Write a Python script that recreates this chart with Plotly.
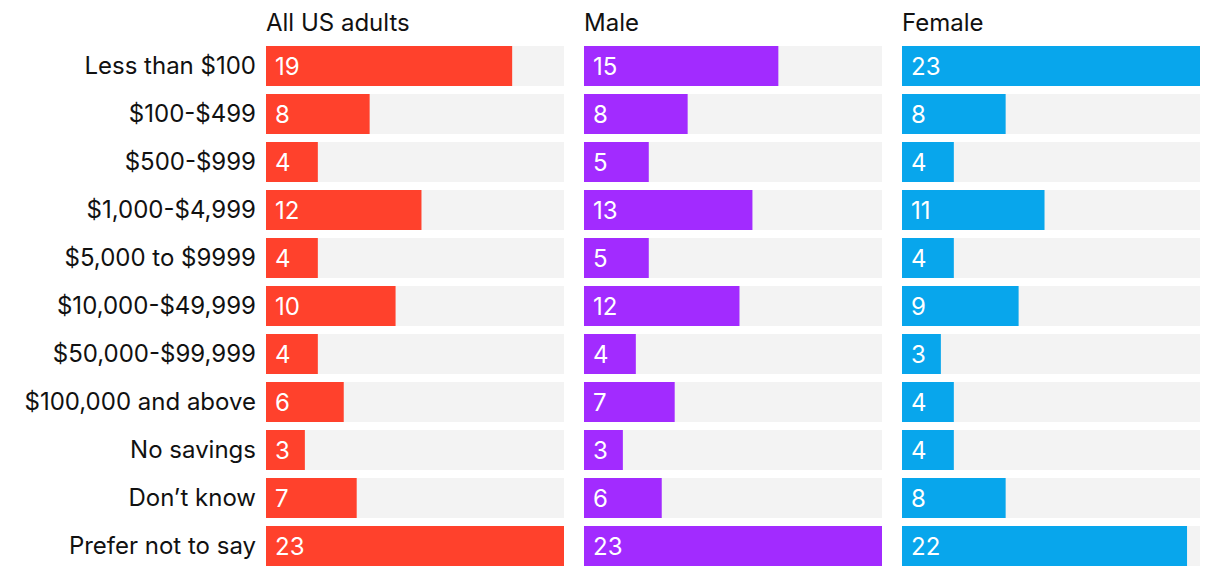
import plotly.graph_objects as go

categories = ["Less than $100", "$100-$499", "$500-$999", "$1,000-$4,999", "$5,000 to $9999",
              "$10,000-$49,999", "$50,000-$99,999", "$100,000 and above", "No savings",
              "Don\u2019t know", "Prefer not to say"]
all_adults = [19, 8, 4, 12, 4, 10, 4, 6, 3, 7, 23]
male = [15, 8, 5, 13, 5, 12, 4, 7, 3, 6, 23]
female = [23, 8, 4, 11, 4, 9, 3, 4, 4, 8, 22]
panel_titles = ["All US adults", "Male", "Female"]
colors = ["#FF412C", "#A22BFF", "#08A6EC"]
max_value = 23

FONT = "Inter"
# page body has an 8px margin, so the figure is placed at (8, 8)
W, H = 1212, 568
ml, mr, mt, mb = 258, 20, 34, 6
pw = W - ml - mr
gap = 20
panel_w = (pw - 2 * gap) / 3
domains = []
for i in range(3):
    a = i * (panel_w + gap) / pw
    domains.append([a, a + panel_w / pw])

fig = go.Figure()
series = [all_adults, male, female]
annotations = []
for i, vals in enumerate(series):
    xa = "x" if i == 0 else f"x{i+1}"
    ya = "y" if i == 0 else f"y{i+1}"
    fig.add_trace(go.Bar(y=categories, x=[max_value] * len(categories), orientation="h",
                         marker=dict(color="#F3F3F3", line=dict(width=0)),
                         xaxis=xa, yaxis=ya, hoverinfo="skip", showlegend=False))
    fig.add_trace(go.Bar(y=categories, x=vals, orientation="h",
                         marker=dict(color=colors[i], line=dict(width=0)),
                         xaxis=xa, yaxis=ya, showlegend=False))
    for c, v in zip(categories, vals):
        annotations.append(dict(x=0, y=c, xref=xa, yref=ya, text=str(v), showarrow=False,
                                xanchor="left", xshift=7, yanchor="middle",
                                font=dict(family=FONT, size=24, color="white")))
    annotations.append(dict(x=domains[i][0], y=1, xref="paper", yref="paper",
                            yshift=20, text=panel_titles[i], showarrow=False,
                            xanchor="left", xshift=-2, yanchor="middle",
                            font=dict(family=FONT, size=24, color="#111111")))

layout = dict(
    width=W, height=H, margin=dict(l=ml, r=mr, t=mt, b=mb),
    barmode="overlay", bargap=8 / 48,
    plot_bgcolor="white", paper_bgcolor="white",
    annotations=annotations,
    font=dict(family=FONT, size=24, color="#111111"),
)
for i in range(3):
    xk = "xaxis" if i == 0 else f"xaxis{i+1}"
    yk = "yaxis" if i == 0 else f"yaxis{i+1}"
    layout[xk] = dict(domain=domains[i], range=[0, max_value], visible=False, fixedrange=True)
    layout[yk] = dict(anchor="x" if i == 0 else f"x{i+1}", categoryorder="array",
                      categoryarray=categories, autorange="reversed",
                      showticklabels=(i == 0), showgrid=False, zeroline=False,
                      showline=False, ticks="", ticklabelstandoff=9,
                      tickfont=dict(family=FONT, size=24, color="#111111"))
fig.update_layout(**layout)
fig.write_html("out.html")
